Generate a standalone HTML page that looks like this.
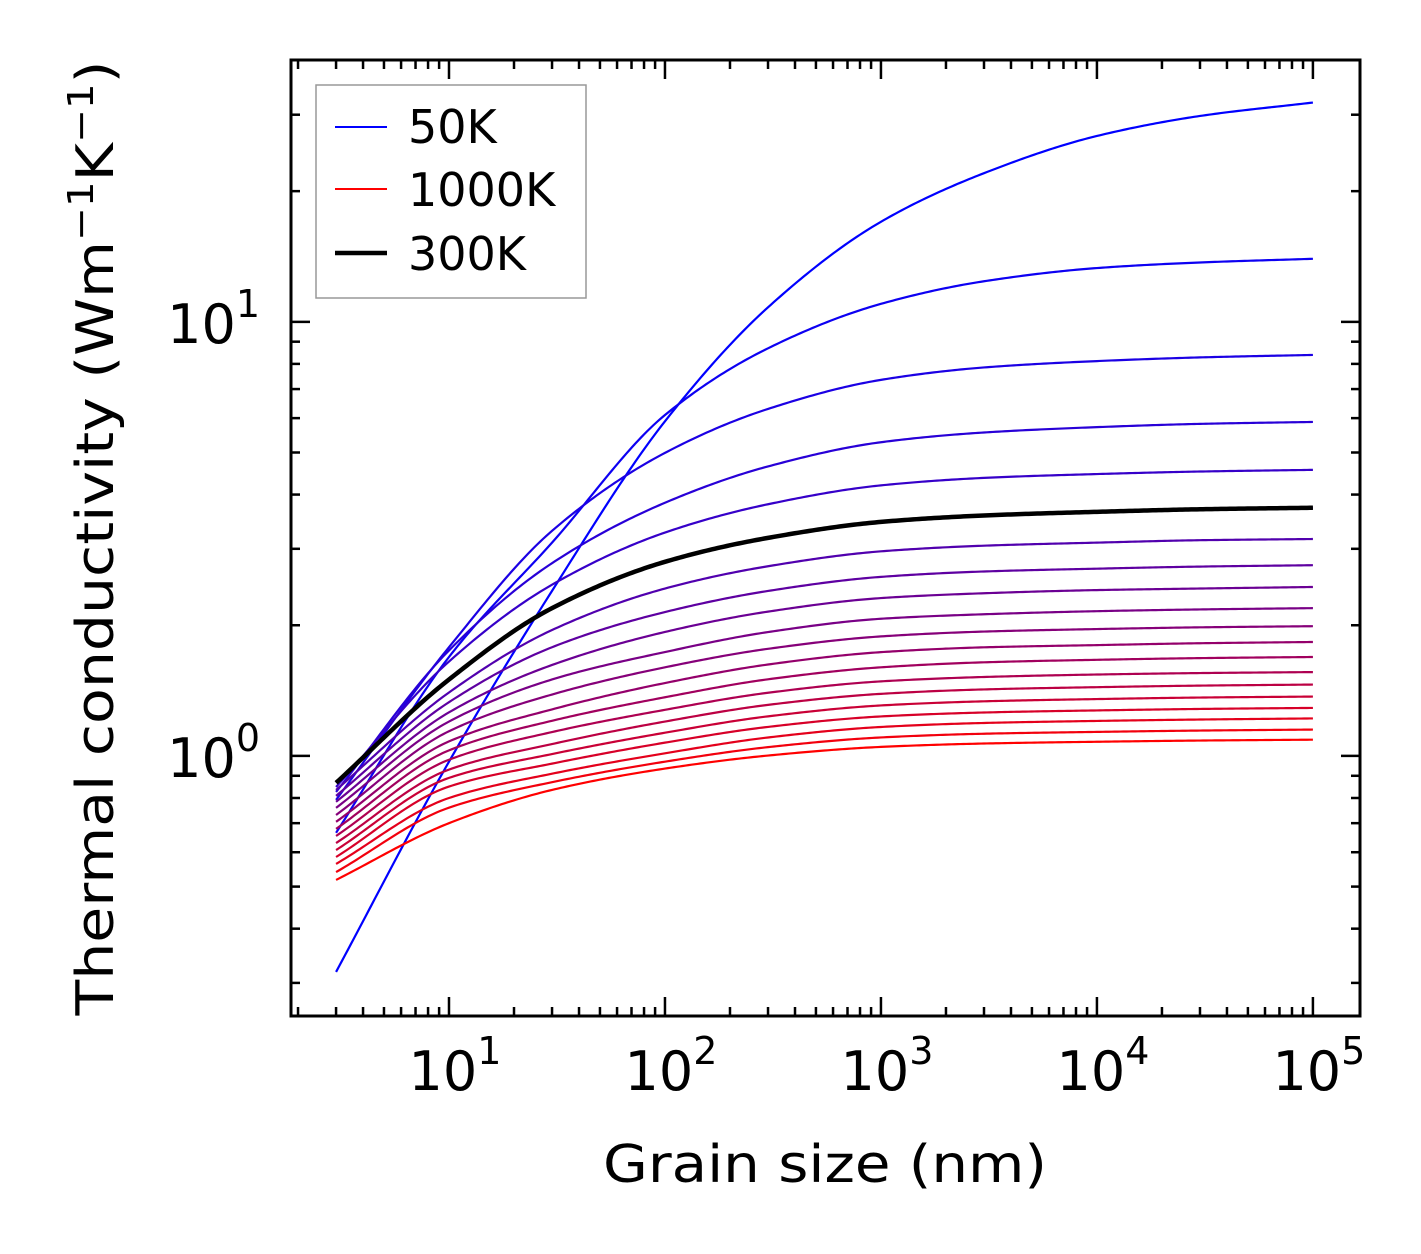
<!DOCTYPE html>
<html><head><meta charset="utf-8"><style>
html,body{margin:0;padding:0;background:#fff;}
svg{display:block;font-family:"DejaVu Sans","Liberation Sans",sans-serif;}
</style></head><body>
<svg id="chart" width="1421" height="1254" viewBox="0 0 1421 1254" xmlns="http://www.w3.org/2000/svg">
<rect x="0" y="0" width="1421" height="1254" fill="#fff"/>
<g id="curves"></g>
<g id="ticks"></g>
<rect x="291" y="60" width="1069" height="956" fill="none" stroke="#000" stroke-width="3"/>
<g id="labels"></g>
<text x="825" y="1182" font-size="52" text-anchor="middle" textLength="444" lengthAdjust="spacingAndGlyphs">Grain size (nm)</text>
<text transform="translate(113,538) rotate(-90)" font-size="52" text-anchor="middle" textLength="955" lengthAdjust="spacingAndGlyphs">Thermal conductivity (Wm<tspan font-size="36" dy="-20">−1</tspan><tspan dy="20">K</tspan><tspan font-size="36" dy="-20">−1</tspan><tspan dy="20">)</tspan></text>
<g>
<rect x="316" y="85" width="270" height="213" fill="#fff" stroke="#999" stroke-width="1.5"/>
<line x1="335" y1="127" x2="387" y2="127" stroke="#0000ff" stroke-width="2"/>
<text x="408" y="143" font-size="46">50K</text>
<line x1="335" y1="189" x2="387" y2="189" stroke="#ff0000" stroke-width="2"/>
<text x="408" y="206" font-size="46">1000K</text>
<line x1="335" y1="253" x2="387" y2="253" stroke="#000" stroke-width="4.5"/>
<text x="408" y="270" font-size="46">300K</text>
</g>
</svg>
<script>
const grainSizes = [3, 10, 30, 100, 300, 1000, 3000, 10000, 30000, 100000];
const temperatures = [50,100,150,200,250,300,350,400,450,500,550,600,650,700,750,800,850,900,950,1000];
const k50 = [0.318, 0.97, 2.40, 5.9, 10.8, 17.0, 22.0, 26.8, 29.8, 32.0];
const k100 = [0.665, 1.69, 3.1, 6.1, 8.69, 11.0, 12.4, 13.3, 13.7, 13.97];
const k150 = [0.792, 1.78, 3.3, 4.99, 6.30, 7.35, 7.85, 8.12, 8.28, 8.39];
const k200 = [0.826, 1.75, 2.78, 3.83, 4.644, 5.28, 5.56, 5.72, 5.82, 5.88];
const k250 = [0.848, 1.65, 2.48, 3.27, 3.80, 4.20, 4.37, 4.46, 4.52, 4.56];
const k300 = [0.867, 1.50, 2.19, 2.80, 3.179, 3.46, 3.58, 3.65, 3.70, 3.73];
const k350 = [0.835, 1.40, 1.95, 2.43, 2.735, 2.96, 3.05, 3.10, 3.14, 3.16];
const k400 = [0.809, 1.33, 1.78, 2.145, 2.399, 2.585, 2.66, 2.70, 2.73, 2.75];
const k450 = [0.784, 1.26, 1.62, 1.93, 2.150, 2.31, 2.37, 2.41, 2.43, 2.45];
const k500 = [0.759, 1.20, 1.50, 1.735, 1.929, 2.07, 2.12, 2.155, 2.175, 2.19];
const k550 = [0.731, 1.14, 1.385, 1.60, 1.765, 1.885, 1.934, 1.96, 1.978, 1.99];
const k600 = [0.705, 1.08, 1.28, 1.472, 1.624, 1.734, 1.779, 1.80, 1.818, 1.83];
const k650 = [0.679, 1.03, 1.205, 1.365, 1.5015, 1.60, 1.643, 1.665, 1.68, 1.69];
const k700 = [0.654, 0.98, 1.135, 1.277, 1.398, 1.485, 1.52, 1.54, 1.552, 1.56];
const k750 = [0.63, 0.93, 1.065, 1.20, 1.311, 1.39, 1.423, 1.44, 1.452, 1.46];
const k800 = [0.607, 0.89, 1.01, 1.131, 1.2336, 1.307, 1.336, 1.352, 1.363, 1.37];
const k850 = [0.585, 0.85, 0.96, 1.073, 1.1664, 1.233, 1.259, 1.273, 1.283, 1.29];
const k900 = [0.564, 0.80, 0.91, 1.014, 1.1027, 1.166, 1.191, 1.204, 1.213, 1.22];
const k950 = [0.54, 0.76, 0.87, 0.970, 1.0477, 1.103, 1.125, 1.136, 1.144, 1.15];
const k1000 = [0.518, 0.70, 0.835, 0.935, 1.002, 1.049, 1.068, 1.078, 1.085, 1.09];
const seriesK = [k50,k100,k150,k200,k250,k300,k350,k400,k450,k500,k550,k600,k650,k700,k750,k800,k850,k900,k950,k1000];
const xTickExps = [1,2,3,4,5];
const yTickExps = [0,1];

const NS = 'http://www.w3.org/2000/svg';
const X0 = 291, X1 = 1360, Y0 = 60, Y1 = 1016;
const xLogMin = 0.2685, xLogMax = 5.218;
const yLogMin = Math.log10(0.2517), yLogMax = Math.log10(40.1);
function xPos(v){ return X0 + (Math.log10(v) - xLogMin) / (xLogMax - xLogMin) * (X1 - X0); }
function yPos(v){ return Y1 - (Math.log10(v) - yLogMin) / (yLogMax - yLogMin) * (Y1 - Y0); }

function monoPath(pts){
  const n = pts.length, xs = pts.map(p=>p[0]), ys = pts.map(p=>p[1]);
  const d = [], m = new Array(n);
  for (let i=0;i<n-1;i++) d.push((ys[i+1]-ys[i])/(xs[i+1]-xs[i]));
  m[0]=d[0]; m[n-1]=d[n-2];
  for (let i=1;i<n-1;i++){
    if (d[i-1]*d[i] <= 0) m[i]=0;
    else { const h0=xs[i]-xs[i-1], h1=xs[i+1]-xs[i];
      const w1=2*h1+h0, w2=h1+2*h0; m[i]=(w1+w2)/(w1/d[i-1]+w2/d[i]); }
  }
  let s = 'M'+xs[0].toFixed(2)+','+ys[0].toFixed(2);
  for (let i=0;i<n-1;i++){
    const h = xs[i+1]-xs[i];
    const steps = Math.max(4, Math.ceil(h/3));
    for (let k=1;k<=steps;k++){
      const t=k/steps, t2=t*t, t3=t2*t;
      const y = (2*t3-3*t2+1)*ys[i] + (t3-2*t2+t)*h*m[i] + (-2*t3+3*t2)*ys[i+1] + (t3-t2)*h*m[i+1];
      s += ' L'+(xs[i]+t*h).toFixed(2)+','+y.toFixed(2);
    }
  }
  return s;
}

const curves = document.getElementById('curves');
const n = seriesK.length;
let blackPath = null;
seriesK.forEach((vals, i) => {
  const t = i / (n - 1);
  const col = 'rgb(' + Math.round(255*t) + ',0,' + Math.round(255*(1-t)) + ')';
  const pts = vals.map((v, j) => [xPos(grainSizes[j]), yPos(v)]);
  const p = document.createElementNS(NS, 'path');
  p.setAttribute('d', monoPath(pts));
  p.setAttribute('fill', 'none');
  p.setAttribute('stroke', col);
  p.setAttribute('stroke-width', '2.2');
  p.setAttribute('stroke-linejoin', 'round');
  
  
  curves.appendChild(p);
  if (temperatures[i] === 300) blackPath = monoPath(pts);
});
const bp = document.createElementNS(NS, 'path');
bp.setAttribute('d', blackPath);
bp.setAttribute('fill', 'none');
bp.setAttribute('stroke', '#000');
bp.setAttribute('stroke-width', '4.5');
bp.setAttribute('stroke-linejoin', 'round');


curves.appendChild(bp);

const ticks = document.getElementById('ticks');
function tick(x1,y1,x2,y2,name){
  const l = document.createElementNS(NS, 'line');
  l.setAttribute('x1', x1); l.setAttribute('y1', y1);
  l.setAttribute('x2', x2); l.setAttribute('y2', y2);
  l.setAttribute('stroke', '#000'); l.setAttribute('stroke-width', '2.5');
  
  
  ticks.appendChild(l);
}
const MAJ = 19, MIN = 9;
for (let e = 0; e <= 5; e++){
  for (let m = 1; m <= 9; m++){
    const v = m * Math.pow(10, e);
    const x = xPos(v);
    if (x < X0 + 1 || x > X1 - 1) continue;
    const L = m === 1 ? MAJ : MIN;
    tick(x, Y1, x, Y1 - L, 'x-tick');
    tick(x, Y0, x, Y0 + L, 'x-tick-top');
  }
}
for (let e = -1; e <= 1; e++){
  for (let m = 1; m <= 9; m++){
    const v = m * Math.pow(10, e);
    const y = yPos(v);
    if (y < Y0 + 1 || y > Y1 - 1) continue;
    const L = m === 1 ? MAJ : MIN;
    tick(X0, y, X0 + L, y, 'y-tick');
    tick(X1, y, X1 - L, y, 'y-tick-right');
  }
}

const labels = document.getElementById('labels');
xTickExps.forEach(e => {
  const x = xPos(Math.pow(10, e));
  const t = document.createElementNS(NS, 'text');
  t.setAttribute('x', x + 6); t.setAttribute('y', 1090);
  t.setAttribute('font-size', '54'); t.setAttribute('text-anchor', 'middle');
  t.innerHTML = '10<tspan font-size="38" dy="-26">' + e + '</tspan>';
  
  
  labels.appendChild(t);
});
yTickExps.forEach(e => {
  const y = yPos(Math.pow(10, e));
  const t = document.createElementNS(NS, 'text');
  t.setAttribute('x', 260); t.setAttribute('y', y + 21);
  t.setAttribute('font-size', '54'); t.setAttribute('text-anchor', 'end');
  t.innerHTML = '10<tspan font-size="38" dy="-26">' + e + '</tspan>';
  
  
  labels.appendChild(t);
});
</script>
</body></html>
